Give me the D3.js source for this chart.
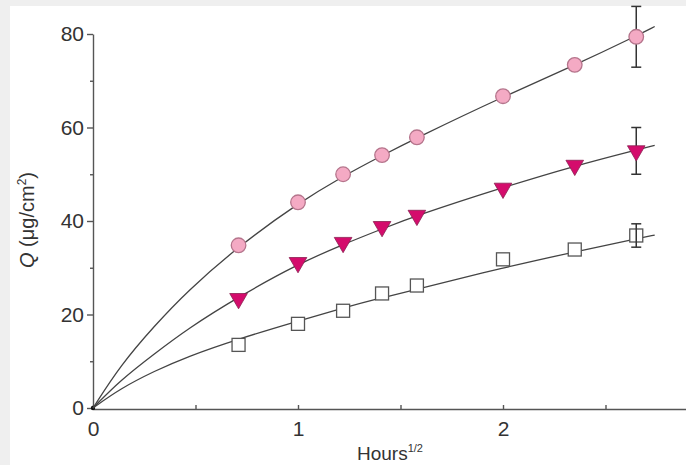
<!DOCTYPE html>
<html>
<head>
<meta charset="utf-8">
<script src="https://cdn.jsdelivr.net/npm/d3@7"></script>
<style>
  html, body { margin: 0; padding: 0; background: #efefef; }
  svg { position: absolute; left: 0; top: 0; }
  .axis path, .axis line { stroke: #555; stroke-width: 1.4; }
  .axis text { font-family: "Liberation Sans", Arial, sans-serif; font-size: 21px; fill: #333; }
  .axis-label { font-family: "Liberation Sans", Arial, sans-serif; fill: #333; }
</style>
</head>
<body>
<script>
// x values (hours^1/2) of the measurements
const sampleX = [0.71, 1.0, 1.22, 1.41, 1.58, 2.0, 2.35, 2.65];

// measured Q values
const circleQ   = [34.8, 44.0, 50.0, 54.1, 57.9, 66.7, 73.4, 79.4];
const triangleQ = [23.4, 31.1, 35.4, 38.8, 41.2, 47.0, 51.9, 55.0];
const squareQ   = [13.5, 18.0, 20.8, 24.5, 26.2, 31.8, 33.9, 36.9];

// error bar (half height) on the last point
const lastErr = { circle: 6.5, triangle: 5.0, square: 2.5 };

// fitted curves
const fitX        = [0, 0.135, 0.30, 0.46, 0.71, 1.0, 1.22, 1.41, 1.58, 2.0, 2.35, 2.65, 2.74];
const circleFit   = [0, 9.2, 17.6, 25.0, 34.6, 43.8, 49.6, 54.0, 57.8, 66.6, 73.3, 79.6, 81.6];
const triangleFit = [0, 6.0, 11.6, 16.9, 23.8, 30.8, 35.0, 38.3, 41.2, 47.2, 51.8, 55.2, 56.2];
const squareFit   = [0, 4.2, 7.9, 11.0, 14.8, 18.6, 21.4, 23.6, 25.4, 30.0, 33.4, 36.2, 37.0];

const yMajor = [0, 20, 40, 60, 80];
const yMinor = [10, 30, 50, 70];
const xTicks = [0, 0.5, 1, 1.5, 2, 2.5];
const xLabels = [0, 1, 2];

const W = 686, H = 465;
const margin = { top: 34, left: 93, bottom: 57 };
const plotH = H - margin.top - margin.bottom;

const svg = d3.select("body").append("svg")
    .attr("width", W)
    .attr("height", H);

// white panel (gray frame on top/left only)
svg.append("rect").attr("x", 10).attr("y", 6).attr("width", W - 10).attr("height", H - 6).attr("fill", "#fff");

const g = svg.append("g").attr("transform", `translate(${margin.left},${margin.top})`);

const x = d3.scaleLinear().domain([0, 1]).range([0, 205]);
const y = d3.scaleLinear().domain([0, 80]).range([plotH, 0]);
const xEnd = x.invert(W - margin.left);

// axes
g.append("g")
    .attr("class", "axis")
    .call(d3.axisLeft(y).tickValues(yMajor).tickSizeInner(6).tickSizeOuter(0).tickPadding(3));

g.append("g")
    .attr("class", "axis")
    .call(d3.axisLeft(y).tickValues(yMinor).tickSize(3).tickFormat(""))
    .select(".domain").remove();

const xAxisG = g.append("g")
    .attr("class", "axis")
    .attr("transform", `translate(0,${plotH + 1})`)
    .call(d3.axisBottom(d3.scaleLinear().domain([0, xEnd]).range([0, W - margin.left]))
        .tickValues(xTicks)
        .tickSizeInner(-4)
        .tickSizeOuter(0)
        .tickPadding(12)
        .tickFormat(d => xLabels.includes(d) ? d : ""));
xAxisG.selectAll(".tick line").attr("stroke-width", 1.1);

// origin dot
g.append("circle").attr("cx", x(0)).attr("cy", y(0)).attr("r", 2.2).attr("fill", "#111");

// fitted curves
const line = d3.line()
    .x((d, i) => x(fitX[i]))
    .y(d => y(d))
    .curve(d3.curveBasis);

[circleFit, triangleFit, squareFit].forEach(fit => {
    g.append("path")
        .attr("d", line(fit))
        .attr("fill", "none")
        .attr("stroke", "#444")
        .attr("stroke-width", 1.3);
});

// error bars on the last point
function errorBar(qs, err) {
    const px = x(sampleX[sampleX.length - 1]);
    const q = qs[qs.length - 1];
    const bar = g.append("g").attr("stroke", "#333").attr("stroke-width", 1.5);
    bar.append("line").attr("x1", px).attr("x2", px).attr("y1", y(q - err)).attr("y2", y(q + err));
    bar.append("line").attr("x1", px - 5).attr("x2", px + 5).attr("y1", y(q - err)).attr("y2", y(q - err));
    bar.append("line").attr("x1", px - 5).attr("x2", px + 5).attr("y1", y(q + err)).attr("y2", y(q + err));
}

errorBar(circleQ, lastErr.circle);
errorBar(triangleQ, lastErr.triangle);

// markers
g.selectAll(".pt-circle")
    .data(circleQ)
    .join("circle")
    .attr("class", "pt-circle")
    .attr("cx", (d, i) => x(sampleX[i]))
    .attr("cy", d => y(d))
    .attr("r", 7.3)
    .attr("fill", "#f4aac4")
    .attr("stroke", "#b5758c")
    .attr("stroke-width", 1.3);

const tri = d3.symbol().type(d3.symbolTriangle).size(135);
g.selectAll(".pt-tri")
    .data(triangleQ)
    .join("path")
    .attr("class", "pt-tri")
    .attr("d", tri)
    .attr("transform", (d, i) => `translate(${x(sampleX[i])},${y(d)}) rotate(180)`)
    .attr("fill", "#d40c6c")
    .attr("stroke", "#8a2050")
    .attr("stroke-width", 0.8);

const sq = 13;
g.selectAll(".pt-sq")
    .data(squareQ)
    .join("rect")
    .attr("class", "pt-sq")
    .attr("x", (d, i) => x(sampleX[i]) - sq / 2)
    .attr("y", d => y(d) - sq / 2)
    .attr("width", sq)
    .attr("height", sq)
    .attr("fill", "#fff")
    .attr("stroke", "#555")
    .attr("stroke-width", 1.3);

errorBar(squareQ, lastErr.square);

// axis titles
const yTitle = svg.append("text")
    .attr("class", "axis-label")
    .attr("transform", "translate(34,220) rotate(-90)")
    .attr("text-anchor", "middle")
    .attr("font-size", 20);
yTitle.append("tspan").attr("font-style", "italic").text("Q");
yTitle.append("tspan").text(" (μg/cm");
yTitle.append("tspan").attr("font-size", 12).attr("dy", -8).text("2");
yTitle.append("tspan").attr("dy", 8).text(")");

const xTitle = svg.append("text")
    .attr("class", "axis-label")
    .attr("x", 390)
    .attr("y", 460)
    .attr("text-anchor", "middle")
    .attr("font-size", 19);
xTitle.append("tspan").text("Hours");
xTitle.append("tspan").attr("font-size", 11).attr("dy", -8).text("1/2");
</script>
</body>
</html>
